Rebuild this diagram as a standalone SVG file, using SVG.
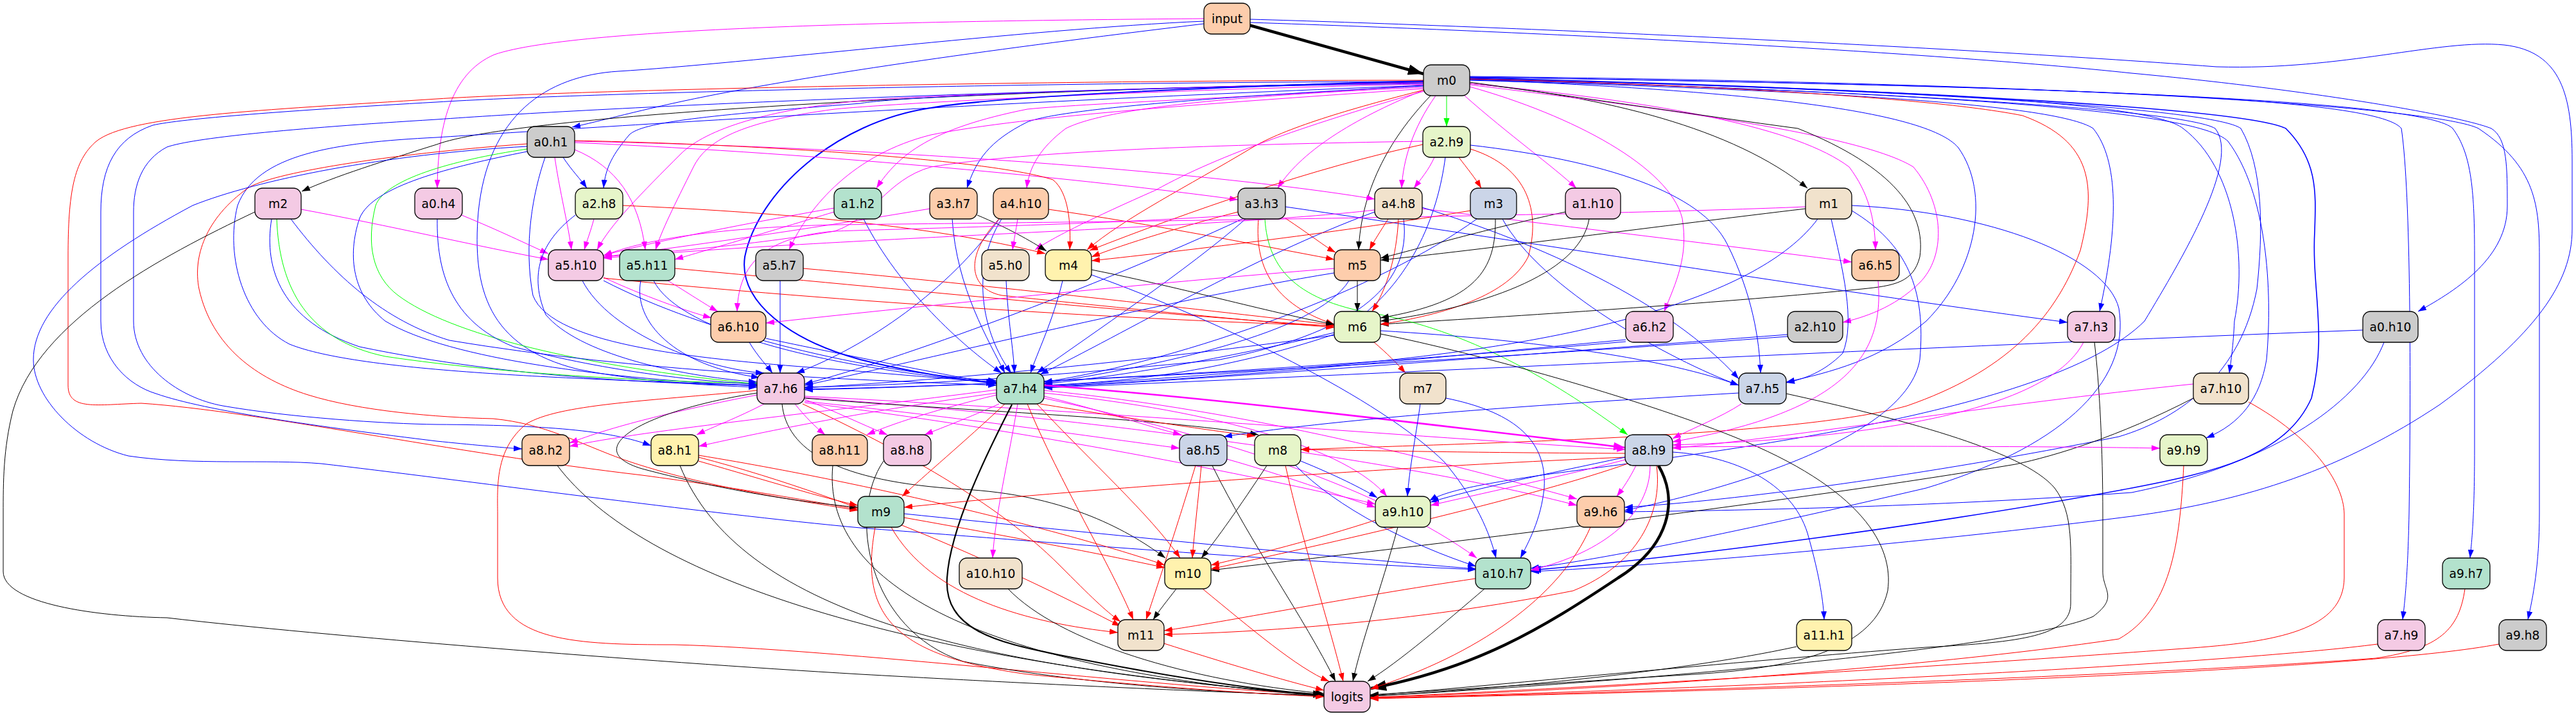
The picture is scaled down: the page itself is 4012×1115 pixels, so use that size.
<svg xmlns="http://www.w3.org/2000/svg" width="4012" height="1115" viewBox="0 0 4012 1115">
<defs>
<style>
.n rect{stroke:#000;stroke-width:1.3}
.n text{font-family:"DejaVu Sans","Liberation Sans",sans-serif;font-size:18.67px;text-anchor:middle;fill:#000}
.pe{fill:#fdcdac}.gr{fill:#cccccc}.lg{fill:#e6f5c9}.pk{fill:#f4cae4}.gn{fill:#b3e2cd}.be{fill:#f1e2cc}.bl{fill:#cbd5e8}.ye{fill:#fff2ae}
#edges path{fill:none;stroke-width:1}
#edges .b{stroke:#0000ff;marker-end:url(#ab)}
#edges .r{stroke:#ff0000;marker-end:url(#ar)}
#edges .m{stroke:#ff00ff;marker-end:url(#am)}
#edges .g{stroke:#00ff00;marker-end:url(#ag)}
#edges .k{stroke:#000000;marker-end:url(#ak)}
#edges .kt{stroke:#000000;stroke-width:4.5;marker-end:url(#akt)}
#edges .k2{stroke:#000000;stroke-width:2.2;marker-end:url(#ak2)}
#edges .mt{stroke:#ff00ff;stroke-width:2.6;marker-end:url(#amt)}
#edges .bt{stroke:#0000ff;stroke-width:2;marker-end:url(#abt)}
#edges .b2{stroke:#0000ff;stroke-width:1.6;marker-end:url(#abt)}
</style>
<marker id="ab" viewBox="0 0 10 7" refX="10" refY="3.5" markerWidth="13" markerHeight="9.1" markerUnits="userSpaceOnUse" orient="auto"><path d="M0,0L10,3.5L0,7z" fill="#0000ff"/></marker>
<marker id="ar" viewBox="0 0 10 7" refX="10" refY="3.5" markerWidth="13" markerHeight="9.1" markerUnits="userSpaceOnUse" orient="auto"><path d="M0,0L10,3.5L0,7z" fill="#ff0000"/></marker>
<marker id="am" viewBox="0 0 10 7" refX="10" refY="3.5" markerWidth="13" markerHeight="9.1" markerUnits="userSpaceOnUse" orient="auto"><path d="M0,0L10,3.5L0,7z" fill="#ff00ff"/></marker>
<marker id="ag" viewBox="0 0 10 7" refX="10" refY="3.5" markerWidth="13" markerHeight="9.1" markerUnits="userSpaceOnUse" orient="auto"><path d="M0,0L10,3.5L0,7z" fill="#00ff00"/></marker>
<marker id="ak" viewBox="0 0 10 7" refX="10" refY="3.5" markerWidth="13" markerHeight="9.1" markerUnits="userSpaceOnUse" orient="auto"><path d="M0,0L10,3.5L0,7z" fill="#000000"/></marker>
<marker id="akt" viewBox="0 0 10 7" refX="10" refY="3.5" markerWidth="24" markerHeight="16.8" markerUnits="userSpaceOnUse" orient="auto"><path d="M0,0L10,3.5L0,7z" fill="#000000"/></marker>
<marker id="ak2" viewBox="0 0 10 7" refX="10" refY="3.5" markerWidth="17" markerHeight="11.9" markerUnits="userSpaceOnUse" orient="auto"><path d="M0,0L10,3.5L0,7z" fill="#000000"/></marker>
<marker id="amt" viewBox="0 0 10 7" refX="10" refY="3.5" markerWidth="18" markerHeight="12.6" markerUnits="userSpaceOnUse" orient="auto"><path d="M0,0L10,3.5L0,7z" fill="#ff00ff"/></marker>
<marker id="abt" viewBox="0 0 10 7" refX="10" refY="3.5" markerWidth="16" markerHeight="11.2" markerUnits="userSpaceOnUse" orient="auto"><path d="M0,0L10,3.5L0,7z" fill="#0000ff"/></marker>
</defs>
<rect width="4012" height="1115" fill="#ffffff"/>
<g id="edges">
<path class="kt" d="M1945,39 L2217,115"/>
<path class="b" d="M1875,37 C1600,70 1300,110 1100,150 C1000,170 930,190 891,198"/>
<path class="m" d="M1875,29 C1500,32 900,40 770,85 C700,115 682,200 681,293"/>
<path class="b" d="M1875,33 C1600,45 1150,100 963,111 C850,118 760,180 745,330 C735,450 760,540 900,575 C1000,595 1100,600 1179,603"/>
<path class="b" d="M1947,35 C2400,50 3000,80 3320,114 C3600,140 3830,180 3880,200 C3905,215 3905,260 3905,321 C3905,400 3830,450 3766,485"/>
<path class="b" d="M1947,30 C2300,40 3000,70 3452,104 C3650,110 3800,60 3900,70 C3990,80 4006,150 4006,250 L4006,357 C4006,440 3950,520 3800,630 C3650,730 3500,780 3320,804 C3000,845 2600,880 2384,890"/>
<path class="g" d="M2253,149 L2253,197"/>
<path class="k" d="M2228,149 C2160,220 2120,300 2116,389"/>
<path class="m" d="M2236,149 C2200,200 2185,250 2183,293"/>
<path class="m" d="M2281,149 C2350,210 2420,260 2455,293"/>
<path class="m" d="M2218,140 C2120,180 2030,230 1990,293"/>
<path class="k" d="M2289,130 C2500,150 2700,200 2815,293"/>
<path class="k" d="M2217,128 C1500,140 800,180 680,225 C600,250 520,275 470,298"/>
<path class="m" d="M2289,135 C2450,180 2600,260 2620,340 C2630,400 2610,440 2592,485"/>
<path class="m" d="M2289,130 C2600,160 2800,200 2880,260 C2910,300 2920,340 2921,389"/>
<path class="m" d="M2289,132 C2600,170 2900,210 2980,260 C3030,320 3030,400 2990,440 C2950,480 2900,495 2870,502"/>
<path class="b" d="M2289,125 C2800,140 3200,160 3260,200 C3300,250 3300,350 3270,485"/>
<path class="b" d="M2217,128 C1800,135 1400,150 1340,161 C1100,180 1000,190 980,210 C955,240 943,260 940,293"/>
<path class="m" d="M2217,132 C2000,150 1700,160 1600,170 C1450,200 1400,240 1365,293"/>
<path class="b" d="M2217,134 C1900,150 1650,170 1600,190 C1540,220 1520,250 1506,293"/>
<path class="m" d="M2217,136 C1900,150 1720,170 1660,200 C1620,230 1603,260 1599,293"/>
<path class="r" d="M2218,140 C2100,170 2000,200 1950,230 C1850,290 1750,340 1693,389"/>
<path class="m" d="M2217,129 C1800,135 1400,150 1340,157 C1200,170 1100,200 1060,240 C1000,300 950,350 930,389"/>
<path class="m" d="M2217,131 C1800,140 1400,160 1300,170 C1150,190 1100,220 1080,260 C1050,320 1030,360 1021,389"/>
<path class="m" d="M2218,138 C1900,160 1600,180 1450,210 C1330,240 1260,320 1229,389"/>
<path class="m" d="M2218,142 C2050,190 1900,240 1800,296 C1700,340 1640,370 1612,389"/>
<path class="k" d="M2289,128 C2450,150 2650,180 2800,200 C2950,260 3000,330 2990,400 C2980,440 2950,445 2900,450 C2700,470 2400,490 2150,505"/>
<path class="bt" d="M2217,126 C1900,135 1550,150 1450,168 C1300,190 1180,300 1160,400 C1150,470 1230,530 1340,560 C1420,580 1500,592 1552,597"/>
<path class="r" d="M2217,125 C1600,125 900,140 680,154 C400,172 200,180 150,220 C115,250 106,300 106,400 L106,600 C106,640 150,630 220,628 C400,640 700,705 1000,740 C1150,760 1260,780 1336,793"/>
<path class="b" d="M2217,127 C1600,128 900,145 680,159 C450,172 280,185 238,195 C180,215 157,260 157,330 L157,500 C157,560 200,600 243,613 C320,640 500,665 680,687 C730,692 780,697 813,699"/>
<path class="b" d="M2217,130 C1500,140 900,170 680,186 C450,200 300,215 260,229 C220,250 208,290 208,330 L208,500 C208,570 280,620 347,632 C450,650 600,660 680,661 C850,662 950,670 1014,694"/>
<path class="b" d="M2217,133 C1500,160 900,200 680,214 C520,222 400,240 370,320 C350,400 380,500 451,536 C560,580 900,590 1179,600"/>
<path class="b" d="M2289,122 C3000,140 3350,160 3400,200 C3480,260 3500,400 3480,500 C3478,540 3475,560 3472,581"/>
<path class="b" d="M2289,123 C3000,145 3420,170 3470,220 C3530,300 3540,450 3530,560 C3520,620 3490,660 3436,682"/>
<path class="b" d="M2289,120 C3200,135 3700,150 3740,200 C3755,300 3755,600 3752,800 C3750,900 3745,940 3742,965"/>
<path class="b" d="M2289,120 C3300,135 3780,160 3820,200 C3850,240 3854,300 3854,400 L3854,700 C3854,800 3850,840 3847,869"/>
<path class="b" d="M2289,119 C3300,130 3800,170 3860,200 C3950,260 3955,320 3955,400 L3955,800 C3955,880 3945,930 3937,965"/>
<path class="b2" d="M2289,121 C3000,140 3500,170 3560,200 C3610,250 3607,300 3605,360 C3600,450 3625,520 3600,620 C3560,710 3450,735 3320,760 C3000,820 2600,870 2384,888"/>
<path class="b" d="M2289,122 C3000,140 3450,170 3490,200 C3525,260 3525,360 3515,450 C3490,580 3400,650 3300,680 C3000,740 2700,780 2530,790"/>
<path class="b" d="M2289,124 C2900,140 3400,170 3450,200 C3490,250 3400,400 3340,500 C3200,640 2700,700 2400,740 C2300,755 2250,765 2226,780"/>
<path class="b" d="M2289,124 C2700,140 3000,170 3050,230 C3100,300 3080,420 3000,500 C2930,560 2850,580 2782,595"/>
<path class="r" d="M2289,123 C2600,130 3000,150 3150,180 C3260,220 3265,290 3240,390 C3200,500 3120,580 2970,632 C2800,680 2300,690 2026,700"/>
<path class="b" d="M877,245 C890,265 905,280 914,293"/>
<path class="m" d="M864,245 C872,300 885,350 890,389"/>
<path class="m" d="M895,233 C960,260 995,310 1005,389"/>
<path class="m" d="M895,222 C1300,240 1700,280 1928,311"/>
<path class="m" d="M895,220 C1400,230 1900,270 2141,310"/>
<path class="r" d="M895,219 C1200,225 1550,250 1640,280 C1665,300 1668,350 1666,389"/>
<path class="r" d="M821,224 C600,240 420,270 386,293 C320,340 300,400 310,450 C330,540 400,590 480,615 C560,640 680,650 768,652 C850,660 900,690 972,716 C1100,760 1250,780 1336,795"/>
<path class="b" d="M821,228 C600,240 400,280 300,320 C150,400 52,480 52,560 C52,620 120,690 200,710 C300,725 420,715 500,722 C700,745 1100,800 1340,822 C1700,850 2000,874 2299,887"/>
<path class="g" d="M821,232 C700,250 600,280 585,320 C570,380 580,430 620,460 C700,520 900,570 1179,598"/>
<path class="b" d="M821,236 C700,260 580,290 560,340 C540,400 550,460 600,500 C700,560 950,590 1179,601"/>
<path class="b" d="M849,245 C830,300 815,380 830,460 C860,540 1100,560 1300,575 C1420,585 1500,592 1552,595"/>
<path class="m" d="M2234,245 C2225,265 2212,280 2202,293"/>
<path class="r" d="M2272,245 C2285,262 2298,278 2307,293"/>
<path class="r" d="M2290,232 C2380,260 2400,330 2380,400 C2350,460 2250,490 2150,505"/>
<path class="b" d="M2251,245 C2240,330 2200,450 2080,520 C1900,580 1750,595 1626,600"/>
<path class="b" d="M2290,226 C2500,250 2650,300 2690,380 C2730,460 2740,530 2742,581"/>
<path class="m" d="M2216,220 C1900,225 1600,235 1450,260 C1380,280 1360,340 1300,360 C1150,385 1000,395 940,400"/>
<path class="r" d="M2216,225 C2050,260 1850,330 1697,390"/>
<path class="k" d="M397,330 C250,400 60,500 20,640 C5,700 5,750 5,800 L5,890 C5,940 150,960 260,962 C500,990 1000,1030 1340,1050 C1700,1070 1950,1080 2062,1083"/>
<path class="m" d="M469,326 C600,350 750,385 854,404"/>
<path class="b" d="M423,341 C410,420 440,500 560,540 C800,590 1050,598 1179,600"/>
<path class="g" d="M431,341 C435,450 480,530 600,555 C800,585 1050,595 1179,597"/>
<path class="b" d="M453,341 C520,430 600,500 700,530 C1000,580 1300,590 1552,600"/>
<path class="m" d="M719,335 C780,360 820,380 854,395"/>
<path class="b" d="M681,341 C680,420 700,500 800,540 C950,580 1100,595 1179,598"/>
<path class="m" d="M925,341 C920,360 914,375 910,389"/>
<path class="r" d="M970,320 C1200,330 1450,350 1628,395"/>
<path class="b" d="M896,335 C850,370 820,420 850,490 C900,550 1050,585 1179,595"/>
<path class="m" d="M1299,324 C1150,350 1000,380 940,398"/>
<path class="m" d="M1299,330 C1200,360 1100,390 1051,404"/>
<path class="b" d="M1345,341 C1400,450 1500,540 1560,581"/>
<path class="k" d="M1522,335 C1570,355 1605,375 1630,391"/>
<path class="b" d="M1483,341 C1490,450 1540,530 1565,581"/>
<path class="m" d="M1448,325 C1300,350 1100,380 940,400"/>
<path class="m" d="M1585,341 C1582,360 1579,375 1577,389"/>
<path class="b" d="M1560,341 C1510,420 1530,520 1575,581"/>
<path class="b" d="M1556,341 C1480,450 1350,540 1240,581"/>
<path class="r" d="M1556,341 C1500,400 1510,450 1560,460 C1750,480 1950,500 2078,510"/>
<path class="r" d="M1633,326 C1800,350 1950,380 2078,404"/>
<path class="r" d="M1928,330 C1850,350 1750,380 1700,400"/>
<path class="r" d="M2002,340 C2040,365 2065,385 2080,393"/>
<path class="r" d="M1960,341 C1955,400 1970,470 2078,505"/>
<path class="g" d="M1970,341 C1975,420 2020,470 2150,490 C2300,520 2430,600 2535,677"/>
<path class="b" d="M1940,341 C1850,420 1700,520 1615,581"/>
<path class="b" d="M2002,322 C2400,380 2900,460 3220,502"/>
<path class="m" d="M1930,335 C1700,350 1450,355 1300,360 C1180,370 1150,420 1148,485"/>
<path class="b" d="M1935,341 C1700,450 1400,560 1253,598"/>
<path class="r" d="M2162,341 C2150,360 2140,375 2133,389"/>
<path class="r" d="M2178,341 C2175,400 2160,450 2137,485"/>
<path class="b" d="M2141,330 C1950,400 1750,520 1620,583"/>
<path class="m" d="M2215,325 C2500,360 2750,390 2884,408"/>
<path class="m" d="M2141,327 C1900,355 1300,370 940,402"/>
<path class="b" d="M2186,341 C2200,450 2100,520 1900,560 C1600,590 1400,600 1253,603"/>
<path class="b" d="M2215,323 C2400,380 2600,470 2708,590"/>
<path class="k" d="M2329,341 C2330,420 2300,470 2150,495"/>
<path class="r" d="M2290,328 C2100,360 1850,390 1700,406"/>
<path class="b" d="M2300,341 C2150,450 1850,560 1626,595"/>
<path class="b" d="M2340,341 C2400,450 2600,560 2708,600"/>
<path class="k" d="M2438,330 C2300,360 2200,390 2150,402"/>
<path class="k" d="M2475,341 C2460,430 2300,480 2150,500"/>
<path class="k" d="M2812,325 C2600,350 2300,390 2150,405"/>
<path class="m" d="M2812,322 C2500,335 1800,345 1300,350 C1100,355 1000,375 940,398"/>
<path class="b" d="M2831,341 C2750,450 2500,540 2000,575 C1800,590 1700,597 1626,601"/>
<path class="b" d="M2852,341 C2870,420 2890,500 2870,550 C2840,580 2810,590 2782,596"/>
<path class="b" d="M2884,320 C3100,330 3280,400 3300,480 C3320,600 3200,700 3000,760 C2700,830 2500,870 2384,885"/>
<path class="b" d="M2884,328 C2970,380 3000,450 2990,560 C2970,680 2700,760 2530,795"/>
<path class="m" d="M940,432 C1000,460 1070,485 1108,495"/>
<path class="r" d="M940,433 C1300,470 1800,500 2078,507"/>
<path class="b" d="M907,437 C950,520 1100,575 1190,581"/>
<path class="b" d="M940,437 C1100,520 1350,580 1552,593"/>
<path class="m" d="M1040,437 C1070,455 1100,475 1118,485"/>
<path class="r" d="M1051,418 C1400,450 1800,490 2078,508"/>
<path class="b" d="M998,437 C985,500 1050,570 1183,588"/>
<path class="b" d="M1018,437 C1060,520 1300,575 1552,596"/>
<path class="r" d="M1251,418 C1500,440 1850,480 2078,506"/>
<path class="b" d="M1215,437 L1215,581"/>
<path class="b" d="M1567,437 C1570,500 1578,540 1580,581"/>
<path class="b" d="M1655,437 C1640,500 1615,550 1605,581"/>
<path class="k" d="M1700,420 C1850,450 1990,490 2078,505"/>
<path class="b" d="M1700,428 C1900,500 2150,620 2250,720 C2300,780 2320,830 2330,869"/>
<path class="k" d="M2114,437 L2114,485"/>
<path class="b" d="M2101,437 C2050,520 1800,570 1626,597"/>
<path class="m" d="M2078,418 C1800,440 1400,480 1193,503"/>
<path class="b" d="M2078,425 C1800,470 1400,570 1253,600"/>
<path class="m" d="M2925,437 C2935,550 2880,640 2605,688"/>
<path class="b" d="M1167,533 C1180,555 1195,570 1203,581"/>
<path class="b" d="M1193,527 C1350,560 1480,585 1552,598"/>
<path class="r" d="M2140,533 C2160,550 2175,565 2189,581"/>
<path class="b" d="M2078,518 C1900,560 1750,585 1626,598"/>
<path class="b" d="M2078,522 C1800,560 1500,590 1253,604"/>
<path class="k" d="M2150,520 C2300,550 2550,620 2700,680 C2900,760 2950,850 2940,920 C2920,1010 2800,1040 2640,1050 C2400,1065 2250,1075 2134,1082"/>
<path class="b" d="M2150,515 C2400,530 2600,560 2708,600"/>
<path class="b" d="M2532,529 C2200,560 1900,590 1626,602"/>
<path class="b" d="M2532,532 C2100,570 1600,600 1253,606"/>
<path class="b" d="M2784,521 C2400,550 1900,590 1626,603"/>
<path class="b" d="M2784,524 C2300,560 1600,600 1253,607"/>
<path class="m" d="M3245,533 C3200,620 3000,680 2605,693"/>
<path class="k" d="M3262,533 C3270,600 3275,700 3275,800 L3275,890 C3275,920 3300,930 3260,960 C3150,1010 2500,1065 2134,1084"/>
<path class="b" d="M3680,514 C3000,540 2200,580 1626,604"/>
<path class="b" d="M3713,533 C3680,620 3550,720 3320,767 C3000,790 2700,795 2530,797"/>
<path class="m" d="M1179,615 C1050,640 950,665 887,690"/>
<path class="m" d="M1190,629 C1150,650 1110,665 1085,677"/>
<path class="m" d="M1238,629 C1255,650 1270,665 1285,677"/>
<path class="m" d="M1253,622 C1300,640 1340,660 1382,677"/>
<path class="m" d="M1253,625 C1500,650 1700,680 1837,698"/>
<path class="m" d="M1253,617 C1700,640 2200,680 2531,700"/>
<path class="m" d="M1253,627 C1600,670 1950,740 2142,785"/>
<path class="m" d="M1253,619 C1700,650 2200,720 2456,787"/>
<path class="k" d="M1253,620 C1500,640 1800,650 1960,677"/>
<path class="k" d="M1179,612 C1000,640 900,700 1000,730 C1150,770 1280,785 1336,790"/>
<path class="k" d="M1218,629 C1225,700 1300,750 1500,762 C1650,770 1750,820 1815,869"/>
<path class="r" d="M1250,629 C1400,700 1550,780 1650,880 C1700,930 1720,950 1745,968"/>
<path class="r" d="M1179,608 C1000,625 870,630 820,660 C770,700 775,760 775,800 L775,900 C775,1000 900,1004 1050,1004 C1300,1010 1800,1070 2062,1082"/>
<path class="m" d="M1552,607 C1300,640 1000,670 887,695"/>
<path class="m" d="M1552,612 C1350,640 1200,670 1088,695"/>
<path class="m" d="M1552,615 C1450,640 1390,660 1350,677"/>
<path class="m" d="M1556,629 C1510,650 1470,665 1440,677"/>
<path class="m" d="M1626,617 C1720,640 1790,665 1840,677"/>
<path class="mt" d="M1626,600 C1900,620 2300,670 2531,697"/>
<path class="m" d="M1626,612 C1900,640 2100,700 2160,773"/>
<path class="m" d="M1626,608 C1950,640 2250,720 2456,777"/>
<path class="m" d="M1585,629 C1570,720 1550,800 1546,869"/>
<path class="m" d="M1626,620 C1900,680 2150,760 2300,869"/>
<path class="r" d="M1620,629 C1750,650 1880,670 1955,679"/>
<path class="r" d="M1565,629 C1500,690 1440,740 1405,773"/>
<path class="r" d="M1615,629 C1700,720 1790,800 1838,869"/>
<path class="r" d="M1600,629 C1650,750 1730,880 1765,965"/>
<path class="k2" d="M1576,630 C1540,700 1480,820 1475,900 C1470,980 1550,1000 1650,1020 C1800,1050 1950,1075 2062,1082"/>
<path class="b" d="M2212,629 C2205,680 2195,730 2192,773"/>
<path class="b" d="M2252,620 C2350,640 2410,680 2405,760 C2400,810 2380,845 2368,869"/>
<path class="m" d="M2712,629 C2680,650 2640,665 2605,683"/>
<path class="k" d="M2782,613 C2950,650 3150,700 3200,760 C3230,800 3225,850 3225,940 C3225,990 3150,1000 3000,1008 C2700,1030 2300,1070 2134,1083"/>
<path class="b" d="M2708,612 C2400,630 2100,650 1906,680"/>
<path class="m" d="M3416,598 C3100,630 2800,680 2605,698"/>
<path class="k" d="M3416,620 C3300,680 3200,710 3139,723 C2800,780 2300,840 1886,888"/>
<path class="r" d="M3502,626 C3600,680 3650,750 3651,800 L3651,900 C3650,980 3550,1000 3400,1010 C3000,1040 2400,1075 2134,1086"/>
<path class="k" d="M868,725 C1000,900 1400,1030 2062,1083"/>
<path class="k" d="M1059,725 C1150,950 1500,1040 2062,1082"/>
<path class="r" d="M1088,718 C1200,750 1280,775 1336,787"/>
<path class="r" d="M1088,709 C1400,760 1700,840 1814,880"/>
<path class="r" d="M1088,712 C1350,780 1600,900 1745,975"/>
<path class="k" d="M1297,725 C1280,900 1500,1040 2062,1084"/>
<path class="k" d="M1376,718 C1320,800 1350,980 1500,1030 C1700,1070 1950,1080 2062,1084"/>
<path class="r" d="M1871,725 C1866,780 1860,830 1857,869"/>
<path class="r" d="M1862,725 C1830,830 1800,920 1785,965"/>
<path class="k" d="M1888,725 C1950,850 2030,960 2080,1061"/>
<path class="m" d="M1911,715 C2000,740 2080,770 2142,790"/>
<path class="b" d="M2026,718 C2080,740 2120,760 2145,775"/>
<path class="b" d="M2018,725 C2080,790 2200,850 2299,882"/>
<path class="k" d="M1973,725 C1930,790 1895,840 1871,869"/>
<path class="r" d="M2002,725 C2030,850 2070,970 2092,1061"/>
<path class="r" d="M2531,706 C2300,705 2150,702 2026,700"/>
<path class="r" d="M2531,712 C2100,730 1600,770 1408,790"/>
<path class="r" d="M2535,722 C2400,770 2100,840 1886,886"/>
<path class="r" d="M2580,725 C2590,800 2550,880 2450,920 C2200,970 1950,985 1813,988"/>
<path class="b" d="M2531,712 C2400,740 2300,760 2228,782"/>
<path class="m" d="M2531,716 C2420,745 2300,770 2228,787"/>
<path class="m" d="M2548,725 C2538,745 2528,760 2518,773"/>
<path class="m" d="M2570,725 C2570,800 2500,860 2384,888"/>
<path class="b" d="M2605,704 C2700,710 2790,750 2815,830 C2835,900 2840,940 2841,965"/>
<path class="m" d="M2605,696 C2900,694 3200,695 3364,698"/>
<path class="kt" d="M2583,725 C2615,780 2600,850 2520,900 C2400,980 2300,1040 2135,1072"/>
<path class="r" d="M3401,725 C3395,850 3380,950 3300,995 C3000,1040 2500,1075 2134,1086"/>
<path class="r" d="M1408,806 C1600,840 1750,870 1814,884"/>
<path class="r" d="M1388,821 C1450,930 1600,970 1741,985"/>
<path class="r" d="M1363,821 C1340,950 1380,1020 1600,1050 C1800,1070 1950,1080 2062,1085"/>
<path class="b" d="M1408,800 C1700,830 2100,870 2299,886"/>
<path class="k" d="M2177,821 C2150,920 2120,1000 2107,1061"/>
<path class="r" d="M2142,810 C2050,840 1950,865 1886,880"/>
<path class="r" d="M2477,821 C2430,930 2300,1020 2134,1073"/>
<path class="k" d="M1570,917 C1650,1000 1850,1060 2062,1080"/>
<path class="k" d="M1832,917 C1818,935 1806,950 1796,965"/>
<path class="r" d="M1873,917 C1950,980 2020,1040 2070,1061"/>
<path class="k" d="M2312,917 C2250,970 2180,1030 2130,1061"/>
<path class="r" d="M2298,901 C2100,930 1900,970 1813,982"/>
<path class="r" d="M3839,917 C3830,980 3800,1010 3700,1025 C3300,1055 2500,1080 2134,1087"/>
<path class="r" d="M1813,1002 C1900,1030 2000,1060 2062,1075"/>
<path class="k" d="M2798,1007 C2600,1050 2300,1075 2134,1084"/>
<path class="r" d="M3703,1003 C3500,1030 2800,1070 2134,1087"/>
<path class="r" d="M3892,1003 C3700,1040 3000,1070 2134,1088"/>
</g>
<g id="n-input" class="n"><rect x="1875" y="5" width="72" height="48" rx="12" class="pe"/><text x="1911" y="35.5">input</text></g>
<g id="n-m0" class="n"><rect x="2217" y="101" width="72" height="48" rx="12" class="gr"/><text x="2253" y="131.5">m0</text></g>
<g id="n-a0_h1" class="n"><rect x="821" y="197" width="74" height="48" rx="12" class="gr"/><text x="858" y="227.5">a0.h1</text></g>
<g id="n-a2_h9" class="n"><rect x="2216" y="197" width="74" height="48" rx="12" class="lg"/><text x="2253" y="227.5">a2.h9</text></g>
<g id="n-m2" class="n"><rect x="397" y="293" width="72" height="48" rx="12" class="pk"/><text x="433" y="323.5">m2</text></g>
<g id="n-a0_h4" class="n"><rect x="646" y="293" width="74" height="48" rx="12" class="pk"/><text x="683" y="323.5">a0.h4</text></g>
<g id="n-a2_h8" class="n"><rect x="896" y="293" width="74" height="48" rx="12" class="lg"/><text x="933" y="323.5">a2.h8</text></g>
<g id="n-a1_h2" class="n"><rect x="1299" y="293" width="74" height="48" rx="12" class="gn"/><text x="1336" y="323.5">a1.h2</text></g>
<g id="n-a3_h7" class="n"><rect x="1448" y="293" width="74" height="48" rx="12" class="pe"/><text x="1485" y="323.5">a3.h7</text></g>
<g id="n-a4_h10" class="n"><rect x="1547" y="293" width="86" height="48" rx="12" class="pe"/><text x="1590" y="323.5">a4.h10</text></g>
<g id="n-a3_h3" class="n"><rect x="1928" y="293" width="74" height="48" rx="12" class="gr"/><text x="1965" y="323.5">a3.h3</text></g>
<g id="n-a4_h8" class="n"><rect x="2141" y="293" width="74" height="48" rx="12" class="be"/><text x="2178" y="323.5">a4.h8</text></g>
<g id="n-m3" class="n"><rect x="2290" y="293" width="72" height="48" rx="12" class="bl"/><text x="2326" y="323.5">m3</text></g>
<g id="n-a1_h10" class="n"><rect x="2438" y="293" width="86" height="48" rx="12" class="pk"/><text x="2481" y="323.5">a1.h10</text></g>
<g id="n-m1" class="n"><rect x="2812" y="293" width="72" height="48" rx="12" class="be"/><text x="2848" y="323.5">m1</text></g>
<g id="n-a5_h10" class="n"><rect x="854" y="389" width="86" height="48" rx="12" class="pk"/><text x="897" y="419.5">a5.h10</text></g>
<g id="n-a5_h11" class="n"><rect x="965" y="389" width="86" height="48" rx="12" class="gn"/><text x="1008" y="419.5">a5.h11</text></g>
<g id="n-a5_h7" class="n"><rect x="1177" y="389" width="74" height="48" rx="12" class="gr"/><text x="1214" y="419.5">a5.h7</text></g>
<g id="n-a5_h0" class="n"><rect x="1529" y="389" width="74" height="48" rx="12" class="be"/><text x="1566" y="419.5">a5.h0</text></g>
<g id="n-m4" class="n"><rect x="1628" y="389" width="72" height="48" rx="12" class="ye"/><text x="1664" y="419.5">m4</text></g>
<g id="n-m5" class="n"><rect x="2078" y="389" width="72" height="48" rx="12" class="pe"/><text x="2114" y="419.5">m5</text></g>
<g id="n-a6_h5" class="n"><rect x="2884" y="389" width="74" height="48" rx="12" class="pe"/><text x="2921" y="419.5">a6.h5</text></g>
<g id="n-a6_h10" class="n"><rect x="1107" y="485" width="86" height="48" rx="12" class="pe"/><text x="1150" y="515.5">a6.h10</text></g>
<g id="n-m6" class="n"><rect x="2078" y="485" width="72" height="48" rx="12" class="lg"/><text x="2114" y="515.5">m6</text></g>
<g id="n-a6_h2" class="n"><rect x="2532" y="485" width="74" height="48" rx="12" class="pk"/><text x="2569" y="515.5">a6.h2</text></g>
<g id="n-a2_h10" class="n"><rect x="2784" y="485" width="86" height="48" rx="12" class="gr"/><text x="2827" y="515.5">a2.h10</text></g>
<g id="n-a7_h3" class="n"><rect x="3220" y="485" width="74" height="48" rx="12" class="pk"/><text x="3257" y="515.5">a7.h3</text></g>
<g id="n-a0_h10" class="n"><rect x="3680" y="485" width="86" height="48" rx="12" class="gr"/><text x="3723" y="515.5">a0.h10</text></g>
<g id="n-a7_h6" class="n"><rect x="1179" y="581" width="74" height="48" rx="12" class="pk"/><text x="1216" y="611.5">a7.h6</text></g>
<g id="n-a7_h4" class="n"><rect x="1552" y="581" width="74" height="48" rx="12" class="gn"/><text x="1589" y="611.5">a7.h4</text></g>
<g id="n-m7" class="n"><rect x="2180" y="581" width="72" height="48" rx="12" class="be"/><text x="2216" y="611.5">m7</text></g>
<g id="n-a7_h5" class="n"><rect x="2708" y="581" width="74" height="48" rx="12" class="bl"/><text x="2745" y="611.5">a7.h5</text></g>
<g id="n-a7_h10" class="n"><rect x="3416" y="581" width="86" height="48" rx="12" class="be"/><text x="3459" y="611.5">a7.h10</text></g>
<g id="n-a8_h2" class="n"><rect x="813" y="677" width="74" height="48" rx="12" class="pe"/><text x="850" y="707.5">a8.h2</text></g>
<g id="n-a8_h1" class="n"><rect x="1014" y="677" width="74" height="48" rx="12" class="ye"/><text x="1051" y="707.5">a8.h1</text></g>
<g id="n-a8_h11" class="n"><rect x="1265" y="677" width="86" height="48" rx="12" class="pe"/><text x="1308" y="707.5">a8.h11</text></g>
<g id="n-a8_h8" class="n"><rect x="1376" y="677" width="74" height="48" rx="12" class="pk"/><text x="1413" y="707.5">a8.h8</text></g>
<g id="n-a8_h5" class="n"><rect x="1837" y="677" width="74" height="48" rx="12" class="bl"/><text x="1874" y="707.5">a8.h5</text></g>
<g id="n-m8" class="n"><rect x="1954" y="677" width="72" height="48" rx="12" class="lg"/><text x="1990" y="707.5">m8</text></g>
<g id="n-a8_h9" class="n"><rect x="2531" y="677" width="74" height="48" rx="12" class="bl"/><text x="2568" y="707.5">a8.h9</text></g>
<g id="n-a9_h9" class="n"><rect x="3364" y="677" width="74" height="48" rx="12" class="lg"/><text x="3401" y="707.5">a9.h9</text></g>
<g id="n-m9" class="n"><rect x="1336" y="773" width="72" height="48" rx="12" class="gn"/><text x="1372" y="803.5">m9</text></g>
<g id="n-a9_h10" class="n"><rect x="2142" y="773" width="86" height="48" rx="12" class="lg"/><text x="2185" y="803.5">a9.h10</text></g>
<g id="n-a9_h6" class="n"><rect x="2456" y="773" width="74" height="48" rx="12" class="pe"/><text x="2493" y="803.5">a9.h6</text></g>
<g id="n-a10_h10" class="n"><rect x="1494" y="869" width="98" height="48" rx="12" class="be"/><text x="1543" y="899.5">a10.h10</text></g>
<g id="n-m10" class="n"><rect x="1814" y="869" width="72" height="48" rx="12" class="ye"/><text x="1850" y="899.5">m10</text></g>
<g id="n-a10_h7" class="n"><rect x="2298" y="869" width="86" height="48" rx="12" class="gn"/><text x="2341" y="899.5">a10.h7</text></g>
<g id="n-a9_h7" class="n"><rect x="3804" y="869" width="74" height="48" rx="12" class="gn"/><text x="3841" y="899.5">a9.h7</text></g>
<g id="n-m11" class="n"><rect x="1741" y="965" width="72" height="48" rx="12" class="be"/><text x="1777" y="995.5">m11</text></g>
<g id="n-a11_h1" class="n"><rect x="2798" y="965" width="86" height="48" rx="12" class="ye"/><text x="2841" y="995.5">a11.h1</text></g>
<g id="n-a7_h9" class="n"><rect x="3703" y="965" width="74" height="48" rx="12" class="pk"/><text x="3740" y="995.5">a7.h9</text></g>
<g id="n-a9_h8" class="n"><rect x="3892" y="965" width="74" height="48" rx="12" class="gr"/><text x="3929" y="995.5">a9.h8</text></g>
<g id="n-logits" class="n"><rect x="2062" y="1061" width="72" height="48" rx="12" class="pk"/><text x="2098" y="1091.5">logits</text></g>
</svg>
